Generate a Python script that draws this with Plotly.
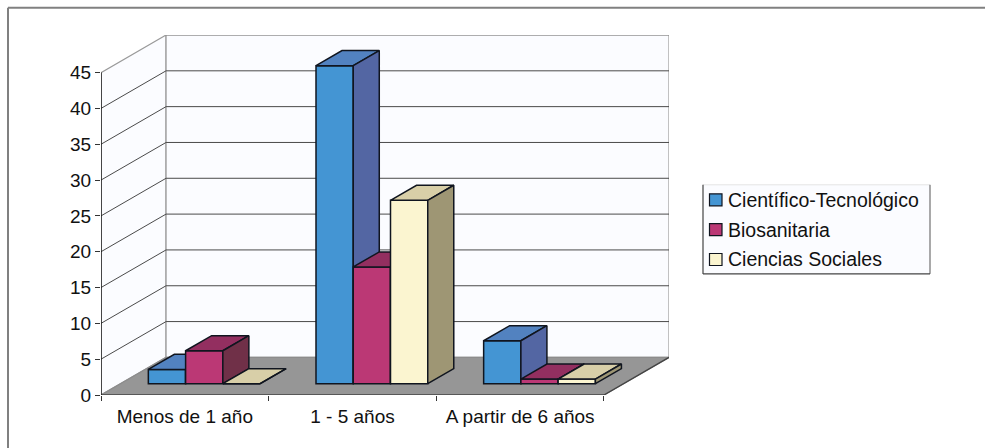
import plotly.graph_objects as go

# Chart data
categories = ["Menos de 1 año", "1 - 5 años", "A partir de 6 años"]
series_names = ["Científico-Tecnológico", "Biosanitaria", "Ciencias Sociales"]
cientifico = [2.0, 44.4, 6.0]
biosanitaria = [4.6, 16.3, 0.65]
sociales = [0.0, 25.6, 0.65]
value_ticks = [0, 5, 10, 15, 20, 25, 30, 35, 40, 45]

# Face colours per series: front, top, side
front_colors = ["#4495D3", "#BB3875", "#FBF5D0"]
top_colors = ["#5282C0", "#932F60", "#D8CFA8"]
side_colors = ["#5366A3", "#703048", "#9E9674"]

EDGE = "#10151F"
WALL = "#FBFCFF"
FLOOR = "#969696"
FONT = "Liberation Sans, Arial, sans-serif"

# Oblique projection: depth 0..1 shifts a point along these offsets (axis units)
DEPTH_X = 0.388
DEPTH_Y = 5.25
BAR_WIDTH = 0.2222
BAR_START = 0.166
DEPTH_NEAR = 0.3
DEPTH_FAR = 0.7
N = len(categories)


def project(x, v, d):
    return x + d * DEPTH_X, v + d * DEPTH_Y


def polygon(points):
    xs, ys = zip(*[project(*p) for p in points])
    return list(xs) + [xs[0], None], list(ys) + [ys[0], None]


def add_polys(fig, polys, fill, line, z, width=1.5):
    xs, ys = [], []
    for p in polys:
        a, b = polygon(p)
        xs += a
        ys += b
    fig.add_trace(go.Scatter(
        x=xs, y=ys, mode="lines", fill="toself", fillcolor=fill,
        line=dict(color=line, width=width), hoverinfo="skip",
        showlegend=False, zorder=z))


def add_path(fig, points, color, width, z):
    xs, ys = zip(*[project(*p) for p in points])
    fig.add_trace(go.Scatter(
        x=xs, y=ys, mode="lines", line=dict(color=color, width=width),
        hoverinfo="skip", showlegend=False, zorder=z))


fig = go.Figure()

# Walls and floor of the chart box
top = value_ticks[-1]
add_polys(fig, [[(0, 0, 0), (0, 0, 1), (0, top, 1), (0, top, 0)]], WALL, "#9A9A9A", 0, 1.2)
add_polys(fig, [[(0, 0, 1), (N, 0, 1), (N, top, 1), (0, top, 1)]], WALL, "#9A9A9A", 0, 1.2)
add_polys(fig, [[(0, 0, 0), (N, 0, 0), (N, 0, 1), (0, 0, 1)]], FLOOR, "#8C8C8C", 1, 1.2)

# Gridlines run along the side wall and across the back wall
for v in value_ticks[1:-1]:
    add_path(fig, [(0, v, 0), (0, v, 1), (N, v, 1)], "#4A4A4A", 1, 1)
add_path(fig, [(0, top, 1), (N, top, 1)], "#8F8F8F", 1, 1)

# Axis lines
add_path(fig, [(0, 0, 0), (N, 0, 0), (N, 0, 1)], "#444444", 1.4, 2)
add_path(fig, [(0, 0, 0), (0, top, 0)], "#111111", 1.4, 2)

# Bars: each series paints front, top and side in order
all_values = [cientifico, biosanitaria, sociales]
z = 3
for s, values in enumerate(all_values):
    lefts = [c + BAR_START + s * BAR_WIDTH for c in range(N)]
    fig.add_trace(go.Bar(
        x=[l + DEPTH_NEAR * DEPTH_X for l in lefts], y=values,
        base=DEPTH_NEAR * DEPTH_Y, width=BAR_WIDTH, offset=0,
        marker=dict(color=front_colors[s], line=dict(color=EDGE, width=1.5)),
        name=series_names[s], showlegend=False, zorder=z))
    tops, sides = [], []
    for l, v in zip(lefts, values):
        r = l + BAR_WIDTH
        tops.append([(l, v, DEPTH_NEAR), (r, v, DEPTH_NEAR), (r, v, DEPTH_FAR), (l, v, DEPTH_FAR)])
        sides.append([(r, 0, DEPTH_NEAR), (r, v, DEPTH_NEAR), (r, v, DEPTH_FAR), (r, 0, DEPTH_FAR)])
    add_polys(fig, tops, top_colors[s], EDGE, z + 1)
    add_polys(fig, sides, side_colors[s], EDGE, z + 2)
    z += 3

# Plot box in window pixels
LEFT, RIGHT, TOPPX, BOTTOM = 101, 669, 35.3, 395


def px(x):
    return (x - LEFT) / (RIGHT - LEFT)


def py(y):
    return (BOTTOM - y) / (BOTTOM - TOPPX)


def paper_line(x0, y0, x1, y1, color, width):
    return dict(type="line", xref="paper", yref="paper", x0=px(x0), x1=px(x1),
                y0=py(y0), y1=py(y1), line=dict(color=color, width=width))


shapes = [
    # outer frame: top and left edges only
    paper_line(8, 8, 985, 8, "#808080", 2),
    paper_line(8, 8, 8, 448, "#808080", 2),
    # legend box, with a faint top edge
    dict(type="rect", xref="paper", yref="paper", x0=px(703), x1=px(930), y0=py(185), y1=py(274),
         fillcolor=WALL, line=dict(width=0)),
    paper_line(703, 185, 930, 185, "#E4E4E4", 1),
    paper_line(703, 185, 703, 274, "#444444", 1.2),
    paper_line(930, 185, 930, 274, "#555555", 1),
    paper_line(703, 274, 930, 274, "#444444", 1.2),
]
annotations = []
for i, name in enumerate(series_names):
    cy = 200 + i * 29.8
    shapes.append(dict(type="rect", xref="paper", yref="paper",
                       x0=px(709.5), x1=px(722), y0=py(cy - 6), y1=py(cy + 6),
                       fillcolor=front_colors[i], line=dict(color=EDGE, width=1.2)))
    annotations.append(dict(text=name, xref="paper", yref="paper", x=px(726), y=py(cy),
                            xanchor="left", yanchor="middle", showarrow=False,
                            font=dict(family=FONT, size=19.5, color="#111111")))

fig.update_layout(
    width=985, height=448, autosize=False,
    margin=dict(l=LEFT, r=985 - RIGHT, t=TOPPX, b=448 - BOTTOM),
    paper_bgcolor="white", plot_bgcolor="white",
    showlegend=False, shapes=shapes, annotations=annotations,
    font=dict(family=FONT, size=19, color="#111111"),
    xaxis=dict(range=[0, N + DEPTH_X], showgrid=False, zeroline=False, showline=False,
               tickmode="array", tickvals=[c + 0.5 for c in range(N)], ticktext=categories,
               ticks="", ticklabelstandoff=8, tickangle=0,
               minor=dict(tickmode="array", tickvals=list(range(N + 1)), ticks="outside",
                          ticklen=5, tickcolor="#333333", tickwidth=1, showgrid=False)),
    yaxis=dict(range=[0, top + DEPTH_Y], showgrid=False, zeroline=False, showline=False,
               tickmode="array", tickvals=value_ticks, ticks="outside", ticklen=5,
               tickcolor="#333333", tickwidth=1),
)

fig.write_html("out.html", config=dict(displayModeBar=False))
